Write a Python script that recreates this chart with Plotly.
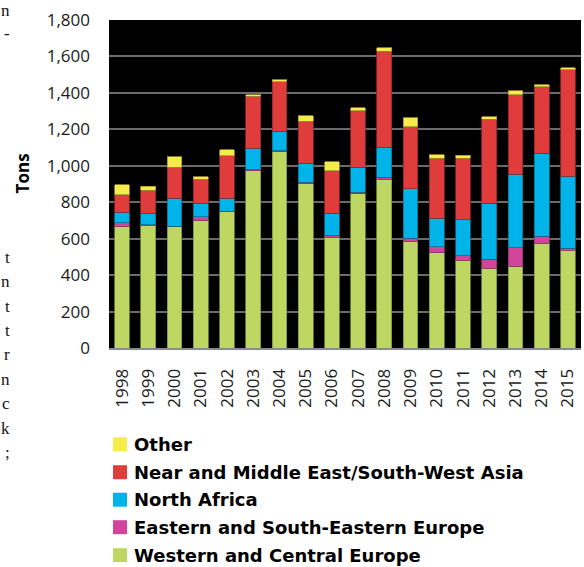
import plotly.graph_objects as go

# Seizures by region, tons per year
years = [str(y) for y in range(1998, 2016)]
western_central_europe = [669, 674, 665, 702, 748, 973, 1078, 901, 609, 846, 927, 587, 523, 482, 439, 450, 576, 537]
eastern_se_europe = [18, 3, 3, 18, 3, 5, 5, 8, 9, 8, 11, 16, 33, 25, 47, 100, 36, 11]
north_africa = [59, 63, 153, 72, 70, 117, 107, 105, 122, 138, 164, 271, 157, 197, 309, 404, 457, 395]
near_middle_east_sw_asia = [95, 125, 170, 135, 235, 287, 272, 231, 234, 311, 526, 341, 329, 336, 460, 435, 366, 585]
other = [55, 23, 58, 13, 32, 9, 9, 29, 48, 15, 21, 48, 18, 18, 14, 22, 9, 9]

series_names = [
    "Western and Central Europe",
    "Eastern and South-Eastern Europe",
    "North Africa",
    "Near and Middle East/South-West Asia",
    "Other",
]
series_values = [western_central_europe, eastern_se_europe, north_africa,
                 near_middle_east_sw_asia, other]
series_colors = ["#BDD762", "#D1459B", "#00B4EA", "#E03C3C", "#F5EB4A"]
series_edges = ["#7d8f3c", "#8c2c66", "#0a6f90", "#8f2626", "#9c9530"]

y_ticks = [0, 200, 400, 600, 800, 1000, 1200, 1400, 1600, 1800]

# Page geometry (pixels)
W, H = 584, 567
L, R, T, B = 109, 3, 19.5, 219.3
PW, PH = W - L - R, H - T - B


def px_x(x):
    return (x - L) / PW


def px_y(y):
    return (H - B - y) / PH


fig = go.Figure()
for name, vals, col, edge in zip(series_names, series_values, series_colors, series_edges):
    fig.add_trace(go.Bar(
        x=years, y=vals, name=name,
        marker=dict(color=col, line=dict(color=edge, width=0.8)),
        showlegend=False,
    ))

# Legend drawn as swatches + labels, top entry first
legend_rows_y = [444, 472, 499.5, 527, 555]
for i, idx in enumerate(range(len(series_names) - 1, -1, -1)):
    yc = legend_rows_y[i]
    fig.add_shape(type="rect", xref="paper", yref="paper",
                  x0=px_x(113), x1=px_x(127), y0=px_y(yc - 7), y1=px_y(yc + 7),
                  fillcolor=series_colors[idx], line=dict(width=0))
    fig.add_annotation(xref="paper", yref="paper", x=px_x(132), y=px_y(yc),
                       xanchor="left", yanchor="middle", showarrow=False,
                       text="<b>" + series_names[idx] + "</b>",
                       font=dict(family="DejaVu Sans", size=18, color="#000000"))

# Axis title
fig.add_annotation(xref="paper", yref="paper", x=px_x(22), y=px_y(173),
                   xanchor="center", yanchor="middle", showarrow=False,
                   textangle=-90, text="<b>Tons</b>",
                   font=dict(family="Open Sans", size=17, color="#000000"))

# Line endings of the neighbouring text column
margin_text = [("n", 10), ("-", 33), ("t", 257), ("n", 281), ("t", 306), ("t", 330),
               ("r", 354), ("n", 379), ("c", 403), ("k", 428), (";", 452)]
for ch, yc in margin_text:
    fig.add_annotation(xref="paper", yref="paper", x=px_x(12), y=px_y(yc),
                       xanchor="right", yanchor="middle", showarrow=False,
                       text=ch, font=dict(family="Liberation Serif", size=17, color="#111111"))

fig.update_layout(
    width=W, height=H,
    margin=dict(l=L, r=R, t=T, b=B, pad=0),
    barmode="stack", bargap=0.44,
    paper_bgcolor="white", plot_bgcolor="black",
    font=dict(family="Open Sans", size=17, color="#1a1a1a"),
    showlegend=False,
)
fig.update_yaxes(
    range=[0, 1800], tickvals=y_ticks, tickformat=",",
    showgrid=True, gridcolor="#6b6b6b", gridwidth=2,
    zeroline=False, showline=False,
    ticks="", ticklabelstandoff=18,
    tickfont=dict(family="Open Sans", size=17, color="#1a1a1a"),
)
fig.update_xaxes(
    type="category", tickangle=-90, showgrid=False,
    showline=True, linecolor="#8a8a8a", linewidth=2,
    ticks="", ticklabelstandoff=12,
    tickfont=dict(family="Open Sans", size=17, color="#1a1a1a"),
)

fig.write_html("out.html")
